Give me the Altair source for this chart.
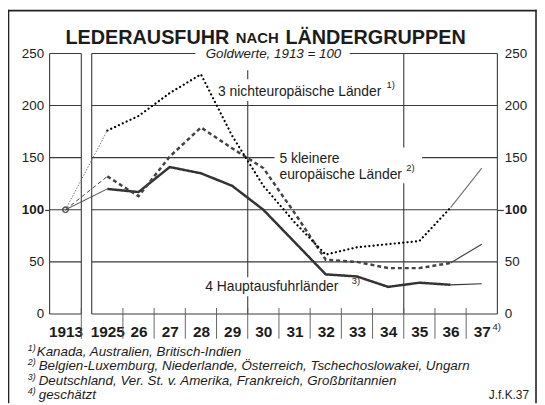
import altair as alt
import pandas as pd

# ---------------- data ----------------
years = [1913, 1925, 1926, 1927, 1928, 1929, 1930, 1931, 1932, 1933, 1934, 1935, 1936, 1937]
year_labels = ["1913", "1925", "26", "27", "28", "29", "30", "31", "32", "33", "34", "35", "36", "37"]
haupt = [100, 120, 117, 141, 135, 123, 100, 69, 38, 36, 26, 30, 28, 29]
klein = [100, 132, 113, 151, 179, 159, 140, 97, 52, 50, 44, 44, 49, 67]
nichteuro = [100, 176, 190, 212, 230, 171, 123, 88, 57, 64, 67, 70, 102, 140]
series_names = ["4 Hauptausfuhrländer", "5 kleinere europäische Länder", "3 nichteuropäische Länder"]
y_ticks = [0, 50, 100, 150, 200, 250]

# ---------------- tables built from the arrays ----------------
rows = []
for name, vals in zip(series_names, [haupt, klein, nichteuro]):
    for seg, lo, hi in [("early", 0, 2), ("main", 1, 13), ("late", 12, 14)]:
        for yr, v in zip(years[lo:hi], vals[lo:hi]):
            rows.append({"series": name, "seg": seg, "year": yr, "value": v})
df = pd.DataFrame(rows)

panels = [(years[0] - 0.5, years[0] + 0.5), (years[1] - 0.5, years[-1] + 0.5)]
hgrid = pd.DataFrame([{"x0": a, "x1": b, "v": t} for a, b in panels for t in y_ticks])
vx = [panels[0][0], panels[0][1], panels[1][0], panels[1][1], 1929.5, 1934.5]
vframe = pd.DataFrame({"x": vx, "y0": [y_ticks[0]] * len(vx), "y1": [y_ticks[-1]] * len(vx)})
seps = pd.DataFrame({"x": [years[0] + 0.5] + [y + 0.5 for y in years[1:-1]]})

# ---------------- layout ----------------
W, H = 452, 263
PX, PY = 50, 52          # page position of plot origin
FONT = "Liberation Sans"
INK = "#1c1c1c"
GRID = "#3a3a3a"

xs = alt.Scale(domain=[panels[0][0], panels[0][1], panels[1][0], panels[1][1]],
               range=[0, 32, 42.5, W], nice=False, zero=False)
ys = alt.Scale(domain=[y_ticks[0], y_ticks[-1]], nice=False, zero=False)

one = pd.DataFrame({"k": [0]})


def txt(s, x, y, size=14, weight="normal", style="normal", align="left", font=FONT, color=INK):
    return alt.Chart(one).mark_text(
        text=s, fontSize=size, fontWeight=weight, fontStyle=style, align=align,
        baseline="alphabetic", font=font, color=color
    ).encode(x=alt.value(x - PX), y=alt.value(y - PY))


def box(x0, y0, x1, y1):
    return alt.Chart(one).mark_rect(color="white").encode(
        x=alt.value(x0 - PX), x2=alt.value(x1 - PX), y=alt.value(y0 - PY), y2=alt.value(y1 - PY))


def prule(x0, y0, x1, y1, w=1.6):
    return alt.Chart(one).mark_rule(color="#222", strokeWidth=w).encode(
        x=alt.value(x0 - PX), x2=alt.value(x1 - PX), y=alt.value(y0 - PY), y2=alt.value(y1 - PY))


cond_tick = {"condition": {"test": "datum.value == 100", "value": GRID}, "value": "transparent"}
cond_weight = {"condition": {"test": "datum.value == 100", "value": "bold"}, "value": "normal"}

left_axis = alt.Axis(orient="left", values=y_ticks, grid=False, domain=False, ticks=True, tickSize=5,
                     tickColor=cond_tick, tickWidth=1.2, labelPadding=1, labelFontSize=13.5,
                     labelFont=FONT, labelFontWeight=cond_weight, labelColor=INK,
                     labelOverlap=False, title=None)
right_axis = alt.Axis(orient="right", values=y_ticks, grid=False, domain=False, ticks=True, tickSize=6,
                      tickColor=cond_tick, tickWidth=1.2, labelPadding=1, labelFontSize=13.5,
                      labelFont=FONT, labelFontWeight=cond_weight, labelColor=INK,
                      labelOverlap=False, title=None)

label_expr = ("[" + ",".join(f"'{l}'" for l in year_labels) + "][indexof(["
              + ",".join(str(y) for y in years) + "], datum.value)]")
x_axis = alt.Axis(values=years, labelExpr=label_expr, ticks=False, tickSize=0, domain=False, grid=False,
                  labelPadding=23, labelBaseline="alphabetic", labelFontSize=15.5, labelFontWeight="bold",
                  labelFont=FONT, labelColor=INK, labelOverlap=False, labelFlush=False, labelBound=False,
                  title=None)

# gridlines
hgrid_layer = alt.Chart(hgrid).mark_rule(color=GRID, strokeWidth=1.1).encode(
    x=alt.X("x0:Q", scale=xs, axis=None), x2="x1:Q",
    y=alt.Y("v:Q", scale=ys, axis=left_axis))
vframe_layer = alt.Chart(vframe).mark_rule(color=GRID, strokeWidth=1.1).encode(
    x=alt.X("x:Q", scale=xs, axis=None),
    y=alt.Y("y0:Q", scale=ys, axis=right_axis), y2="y1:Q")
sep_layer = alt.Chart(seps).mark_rule(color="#555", strokeWidth=0.9).encode(
    x=alt.X("x:Q", scale=xs, axis=x_axis), y=alt.value(309 - PY), y2=alt.value(340 - PY))

# white backgrounds behind labels (hide gridlines)
boxes = [box(197, 44, 353, 69), box(216, 78, 400, 100), box(277, 147, 426, 183), box(203, 278, 364, 297)]

early = alt.Chart(df).transform_filter(alt.datum.seg == "early").mark_line(strokeWidth=1).encode(
    x=alt.X("year:Q", scale=xs, axis=None), y=alt.Y("value:Q", scale=ys, axis=None),
    detail="series:N",
    color=alt.Color("series:N", scale=alt.Scale(domain=series_names, range=["#333", "#444", "#777"]), legend=None),
    strokeDash=alt.StrokeDash("series:N", scale=alt.Scale(domain=series_names, range=[[1, 0], [4, 3], [1.5, 1.5]]), legend=None))

main = alt.Chart(df).transform_filter(alt.datum.seg == "main").transform_filter(
    alt.datum.series != series_names[2]).mark_line(strokeWidth=2.5, strokeCap="butt").encode(
    x=alt.X("year:Q", scale=xs, axis=None), y=alt.Y("value:Q", scale=ys, axis=None),
    detail="series:N",
    color=alt.Color("series:N", scale=alt.Scale(domain=series_names, range=["#111", "#111", "#111"]), legend=None),
    strokeDash=alt.StrokeDash("series:N", scale=alt.Scale(domain=series_names, range=[[1, 0], [9, 4], [1, 1]]), legend=None))

dotted = alt.Chart(df).transform_filter(alt.datum.seg == "main").transform_filter(
    alt.datum.series == series_names[2]).mark_line(
    strokeWidth=2.2, strokeCap="round", strokeDash=[0.1, 4.2], color="#000").encode(
    x=alt.X("year:Q", scale=xs, axis=None), y=alt.Y("value:Q", scale=ys, axis=None))

late = alt.Chart(df).transform_filter(alt.datum.seg == "late").mark_line(strokeWidth=1.2).encode(
    x=alt.X("year:Q", scale=xs, axis=None), y=alt.Y("value:Q", scale=ys, axis=None),
    detail="series:N",
    color=alt.Color("series:N", scale=alt.Scale(domain=series_names, range=["#222", "#333", "#888"]), legend=None))

base_pt = alt.Chart(df).transform_filter(alt.datum.year == years[0]).transform_filter(
    alt.datum.seg == "early").mark_point(shape="circle", filled=False, size=30, color="#555", strokeWidth=1.2).encode(
    x=alt.X("year:Q", scale=xs, axis=None), y=alt.Y("value:Q", scale=ys, axis=None))

texts = [
    txt("LEDERAUSFUHR", 66, 42, size=20, weight="bold"),
    txt("NACH", 238, 41, size=15, weight="bold"),
    txt("LÄNDERGRUPPEN", 288, 42, size=20, weight="bold"),
    txt("Goldwerte, 1913 = 100", 276, 57, size=13.5, style="italic", align="center"),
    txt("3 nichteuropäische Länder", 220, 95, size=14),
    txt("1)", 390, 87, size=9.5),
    txt("5 kleinere", 282, 163, size=14),
    txt("europäische Länder", 282, 179, size=14),
    txt("2)", 410, 171, size=9.5),
    txt("4 Hauptausfuhrländer", 207, 292, size=14),
    txt("3)", 355, 285, size=9.5),
    txt("4)", 497, 331, size=9.5),
    txt("1)", 28, 352, size=9, style="italic"),
    txt("Kanada, Australien, Britisch-Indien", 37, 357, size=13.5, style="italic"),
    txt("2)", 28, 367, size=9, style="italic"),
    txt("Belgien-Luxemburg, Niederlande, Österreich, Tschechoslowakei, Ungarn", 39, 372, size=13.5, style="italic"),
    txt("3)", 28, 382, size=9, style="italic"),
    txt("Deutschland, Ver. St. v. Amerika, Frankreich, Großbritannien", 39, 387, size=13.5, style="italic"),
    txt("4)", 28, 396, size=9, style="italic"),
    txt("geschätzt", 39, 401, size=13.5, style="italic"),
    txt("J.f.K.37", 534, 401, size=12, align="right"),
]

frame = [prule(8.5, 8, 8.5, 405), prule(8, 8.8, 541.5, 8.8), prule(541, 8, 541, 405)]

chart = alt.layer(
    hgrid_layer, vframe_layer, sep_layer, *boxes, early, main, dotted, late, base_pt, *texts, *frame
).resolve_axis(x="independent", y="independent").properties(
    width=W, height=H,
    autosize=alt.AutoSizeParams(type="none"),
    padding={"left": PX - 8, "top": PY - 8, "right": 534 - (PX - 8) - W, "bottom": 396 - (PY - 8) - H},
    background="white",
).configure_view(stroke=None)

chart.save("out.html", embed_options={"renderer": "svg", "actions": False})
